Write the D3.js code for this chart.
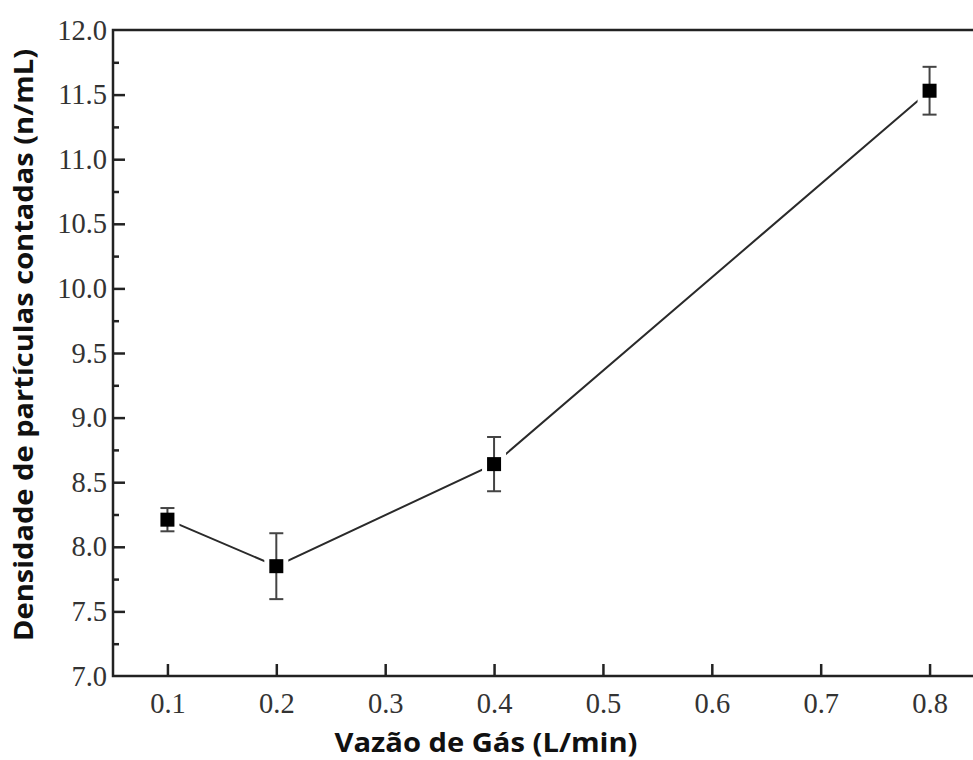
<!DOCTYPE html>
<html>
<head>
<meta charset="utf-8">
<script src="https://cdn.jsdelivr.net/npm/d3@7"></script>
<style>
    body { margin: 0; background: #fff; }
    svg { display: block; }
    .tick text { font-family: "Liberation Serif", "Times New Roman", serif; font-size: 28.5px; fill: #333; }
    .axis-title { font-family: "Open Sans", sans-serif; font-weight: bold; fill: #111; }
</style>
</head>
<body>
<svg id="chart" width="973" height="760"></svg>
<script>
const flows = [0.1, 0.2, 0.4, 0.8];
const density = [8.21, 7.85, 8.64, 11.53];
const errors = [0.09, 0.255, 0.21, 0.185];
const xTicks = [0.1, 0.2, 0.3, 0.4, 0.5, 0.6, 0.7, 0.8];
const yTicks = [7.0, 7.5, 8.0, 8.5, 9.0, 9.5, 10.0, 10.5, 11.0, 11.5, 12.0];

const dataset = flows.map((f, i) => ({ x: f, y: density[i], err: errors[i] }));

const svg = d3.select("#chart");

const xScale = d3.scaleLinear().domain([0.05, 0.85]).range([113, 984]);
const yScale = d3.scaleLinear().domain([7, 12]).range([676, 30]);

// minor y ticks
const minorTicks = d3.range(7.25, 12, 0.5);
svg.append("g")
    .attr("transform", `translate(${xScale(0.05)},0)`)
    .call(d3.axisLeft(yScale).tickValues(minorTicks).tickSize(-6).tickFormat(""))
    .call(g => g.select(".domain").remove())
    .selectAll("line").attr("stroke", "#222").attr("stroke-width", 2.5);

// y axis
svg.append("g")
    .attr("transform", `translate(${xScale(0.05)},0)`)
    .call(d3.axisLeft(yScale).tickValues(yTicks).tickSize(-12).tickPadding(6).tickFormat(d3.format(".1f")))
    .call(g => g.select(".domain").remove())
    .call(g => g.selectAll("line").attr("stroke", "#222").attr("stroke-width", 2.5))
    .call(g => g.selectAll(".tick").filter(d => d === 7 || d === 12).select("line").remove());

// x axis
svg.append("g")
    .attr("transform", `translate(0,${yScale(7)})`)
    .call(d3.axisBottom(xScale).tickValues(xTicks).tickSize(-12).tickPadding(17).tickFormat(d3.format(".1f")))
    .call(g => g.select(".domain").remove())
    .selectAll("line").attr("stroke", "#222").attr("stroke-width", 2.5);

// frame
svg.append("rect")
    .attr("x", xScale(0.05))
    .attr("y", yScale(12))
    .attr("width", xScale(0.85) - xScale(0.05))
    .attr("height", yScale(7) - yScale(12))
    .attr("fill", "none")
    .attr("stroke", "#222")
    .attr("stroke-width", 2.5);

// connecting line
const line = d3.line().x(d => xScale(d.x)).y(d => yScale(d.y));
svg.append("path")
    .datum(dataset)
    .attr("d", line)
    .attr("fill", "none")
    .attr("stroke", "#2a2a2a")
    .attr("stroke-width", 2);

// white gap around markers
svg.selectAll(".halo")
    .data(dataset)
    .enter()
    .append("rect")
    .attr("class", "halo")
    .attr("x", d => xScale(d.x) - 12)
    .attr("y", d => yScale(d.y) - 12)
    .attr("width", 24)
    .attr("height", 24)
    .attr("fill", "#fff");

// error bars
const eb = svg.selectAll(".err")
    .data(dataset)
    .enter()
    .append("g")
    .attr("class", "err")
    .attr("stroke", "#444")
    .attr("stroke-width", 2);

eb.append("line")
    .attr("x1", d => xScale(d.x)).attr("x2", d => xScale(d.x))
    .attr("y1", d => yScale(d.y + d.err)).attr("y2", d => yScale(d.y - d.err));
eb.append("line")
    .attr("x1", d => xScale(d.x) - 7).attr("x2", d => xScale(d.x) + 7)
    .attr("y1", d => yScale(d.y + d.err)).attr("y2", d => yScale(d.y + d.err));
eb.append("line")
    .attr("x1", d => xScale(d.x) - 7).attr("x2", d => xScale(d.x) + 7)
    .attr("y1", d => yScale(d.y - d.err)).attr("y2", d => yScale(d.y - d.err));

// markers
svg.selectAll(".marker")
    .data(dataset)
    .enter()
    .append("rect")
    .attr("class", "marker")
    .attr("x", d => xScale(d.x) - 7)
    .attr("y", d => yScale(d.y) - 7)
    .attr("width", 14)
    .attr("height", 14)
    .attr("fill", "#000");

// axis titles
svg.append("text")
    .attr("class", "axis-title")
    .attr("x", 486)
    .attr("y", 752)
    .attr("text-anchor", "middle")
    .attr("textLength", 303)
    .attr("lengthAdjust", "spacingAndGlyphs")
    .style("font-size", "27px")
    .text("Vazão de Gás (L/min)");

svg.append("text")
    .attr("class", "axis-title")
    .attr("transform", "translate(33,345) rotate(-90)")
    .attr("text-anchor", "middle")
    .attr("textLength", 592)
    .attr("lengthAdjust", "spacingAndGlyphs")
    .style("font-size", "27px")
    .text("Densidade de partículas contadas (n/mL)");
</script>
</body>
</html>
